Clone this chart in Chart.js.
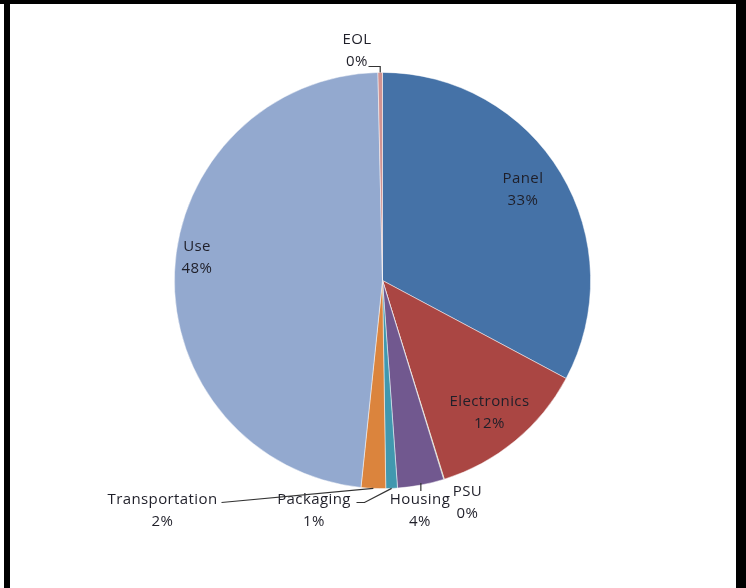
<!DOCTYPE html>
<html>
<head>
<meta charset="utf-8">
<script src="https://cdn.jsdelivr.net/npm/chart.js@4.4.1/dist/chart.umd.min.js"></script>
<style>
  html, body { margin: 0; padding: 0; background: #fff; }
  .wrap { position: relative; width: 746px; height: 588px; overflow: hidden; }
  .bar { position: absolute; background: #000; }
  #chart { position: absolute; left: 0; top: 0; }
</style>
</head>
<body>
<div class="wrap">
  <canvas id="chart" width="746" height="588"></canvas>
  <div class="bar" style="left:0;top:0;width:746px;height:4px"></div>
  <div class="bar" style="left:4px;top:0;width:6px;height:588px"></div>
  <div class="bar" style="left:736px;top:0;width:10px;height:588px"></div>
</div>
<script>
// data (share of impact, %)
const categories = ['Panel', 'Electronics', 'PSU', 'Housing', 'Packaging', 'Transportation', 'Use', 'EOL'];
const values = [32.8, 12.4, 0.05, 3.6, 0.9, 1.9, 48.0, 0.35];
const pctLabels = ['33%', '12%', '0%', '4%', '1%', '2%', '48%', '0%'];
const colors = ['#4572A7', '#AA4643', '#89A54E', '#71588F', '#4198AF', '#DB843D', '#93A9CF', '#D19392'];

// label placement: offset of the name line from the pie centre, pct line goes below
const labelOffsets = {
  Panel: [140.5, -101.5],
  Electronics: [107, 121.5],
  PSU: [85, 211],
  Housing: [37.5, 219],
  Packaging: [-68.5, 219],
  Transportation: [-220, 219],
  Use: [-185.5, -34],
  EOL: [-25.5, -240.5]
};
// leader lines: start points relative to centre, the line ends on the slice edge
const leaders = {
  EOL: [[-14, -214]],
  Packaging: [[-26, 222], [-18, 222]],
  Transportation: [[-161, 222]],
  Housing: [[0, 6]]
};

const labelFont = '15px "Open Sans", Lato, sans-serif';
const textColor = '#1f1f29';

const pieLabels = {
  id: 'pieLabels',
  afterDatasetsDraw(chart) {
    const c = chart.ctx;
    const arcs = chart.getDatasetMeta(0).data;
    c.save();
    c.font = labelFont;
    c.letterSpacing = '0.4px';
    c.fillStyle = textColor;
    c.textAlign = 'center';
    c.textBaseline = 'middle';
    arcs.forEach((arc, i) => {
      const name = categories[i];
      const off = labelOffsets[name];
      const cx = arc.x, cy = arc.y;
      c.fillText(name, cx + off[0], cy + off[1]);
      c.fillText(pctLabels[i], cx + off[0], cy + off[1] + 22);

      const pts = leaders[name];
      if (!pts) return;
      const mid = (arc.startAngle + arc.endAngle) / 2;
      const ex = cx + Math.cos(mid) * arc.outerRadius;
      const ey = cy + Math.sin(mid) * arc.outerRadius;
      c.strokeStyle = '#333';
      c.lineWidth = 1.2;
      c.beginPath();
      if (name === 'Housing') {
        // short tick straight down from the slice edge
        c.moveTo(ex, ey - 2);
        c.lineTo(ex, ey + pts[0][1]);
      } else if (name === 'EOL') {
        // elbow: across, then down to the slice
        c.moveTo(cx + pts[0][0], cy + pts[0][1]);
        c.lineTo(ex, cy + pts[0][1]);
        c.lineTo(ex, ey);
      } else {
        c.moveTo(cx + pts[0][0], cy + pts[0][1]);
        for (let k = 1; k < pts.length; k++) c.lineTo(cx + pts[k][0], cy + pts[k][1]);
        c.lineTo(ex, ey);
      }
      c.stroke();
    });
    c.restore();
  }
};

const chart = new Chart(document.getElementById('chart').getContext('2d'), {
  type: 'pie',
  data: {
    labels: categories,
    datasets: [{
      data: values,
      backgroundColor: colors,
      borderColor: 'rgba(255,255,255,0.6)',
      borderWidth: 0.8
    }]
  },
  options: {
    responsive: false,
    animation: false,
    layout: { padding: { left: 174, right: 155, top: 72, bottom: 99 } },
    plugins: {
      legend: { display: false },
      tooltip: { enabled: false }
    }
  },
  plugins: [pieLabels]
});
</script>
</body>
</html>
